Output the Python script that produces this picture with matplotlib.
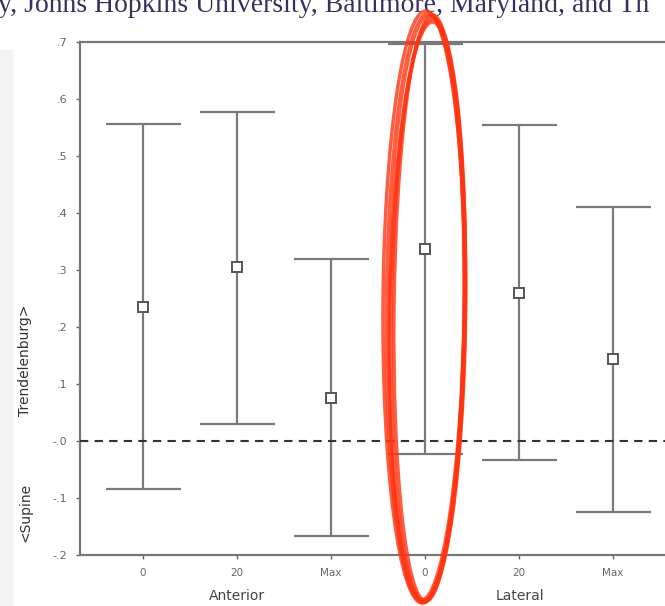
import matplotlib
matplotlib.use("Agg")
import matplotlib.pyplot as plt
from matplotlib.patches import Ellipse, Rectangle
import numpy as np

# Data
tick_labels = ["0", "20", "Max", "0", "20", "Max"]
groups = ["Anterior", "Lateral"]
means = [0.235, 0.305, 0.075, 0.337, 0.260, 0.144]
upper = [0.556, 0.577, 0.319, 0.696, 0.554, 0.410]
lower = [-0.084, 0.030, -0.167, -0.023, -0.033, -0.125]
ytick_vals = [0.7, 0.6, 0.5, 0.4, 0.3, 0.2, 0.1, 0.0, -0.1, -0.2]
ytick_text = [".7", ".6", ".5", ".4", ".3", ".2", ".1", "-.0", "-.1", "-.2"]

W, H = 665, 606
fig = plt.figure(figsize=(W / 100, H / 100), dpi=100)

# scan edge band
fig.patches.append(Rectangle((0, 0), 12 / W, 1 - 50 / H, transform=fig.transFigure,
                             color="#f3f3f5", zorder=0))

ax = fig.add_axes([80 / W, 1 - 555 / H, (676 - 80) / W, (555 - 42) / H])
x = np.arange(len(means))
m = np.array(means)
yerr = [m - np.array(lower), np.array(upper) - m]
ax.errorbar(x, m, yerr=yerr, fmt="none", ecolor="#7a7a7a", elinewidth=1.6,
            capsize=27, capthick=1.6, zorder=3)
ax.plot(x, m, ls="none", marker="s", ms=7, mfc="white", mec="#555555", mew=1.4, zorder=4)
ax.axhline(0, ls=(0, (4, 3)), color="#333333", lw=1.5, zorder=5)

ax.set_xlim(-0.67, 5.67)
ax.set_ylim(-0.2, 0.7)
ax.set_xticks(x)
ax.set_xticklabels(tick_labels, fontsize=7.5, color="#666666")
ax.set_yticks(ytick_vals)
ax.set_yticklabels(ytick_text, fontsize=8, color="#666666")
ax.tick_params(length=3, color="#666666", width=1, pad=6)
for s in ax.spines.values():
    s.set_color("#777777")
    s.set_linewidth(1.6)

# group labels
for xi, g in zip([1, 4], groups):
    fig.text((80 + (xi + 0.67) * 94.1) / W, 1 - 596 / H, g, ha="center", va="center",
             fontsize=10, color="#444444")

fig.text(25 / W, 1 - 360 / H, "Trendelenburg>", rotation=90, ha="center", va="center",
         fontsize=10, color="#333333")
fig.text(25 / W, 1 - 512 / H, "<Supine", rotation=90, ha="center", va="center",
         fontsize=10, color="#333333")

# cut-off header text
fig.text(-2 / W, 1 - 12 / H, "y, Johns Hopkins University, Baltimore, Maryland, and Th",
         family="Liberation Serif", fontsize=20, color="#3a3060", va="baseline", ha="left")

# hand-drawn red ellipse
for dx, dy, dw, dh, ang, lw in [(0, 0, 0, 0, -0.5, 3.5), (2, 2, -4, -6, -0.8, 3.0),
                                 (-2, -1, 4, 4, -0.3, 2.5), (1, 3, -3, -10, -1.0, 2.5),
                                 (3, 0, -8, -2, -0.6, 2.5)]:
    e = Ellipse(((426 + dx) / W, 1 - (308 + dy) / H), (78 + dw) / W, (588 + dh) / H,
                angle=ang, transform=fig.transFigure, fill=False, ec="#ff3512",
                lw=lw, alpha=0.8, zorder=10)
    fig.patches.append(e)

fig.savefig("out.png", dpi=100)
